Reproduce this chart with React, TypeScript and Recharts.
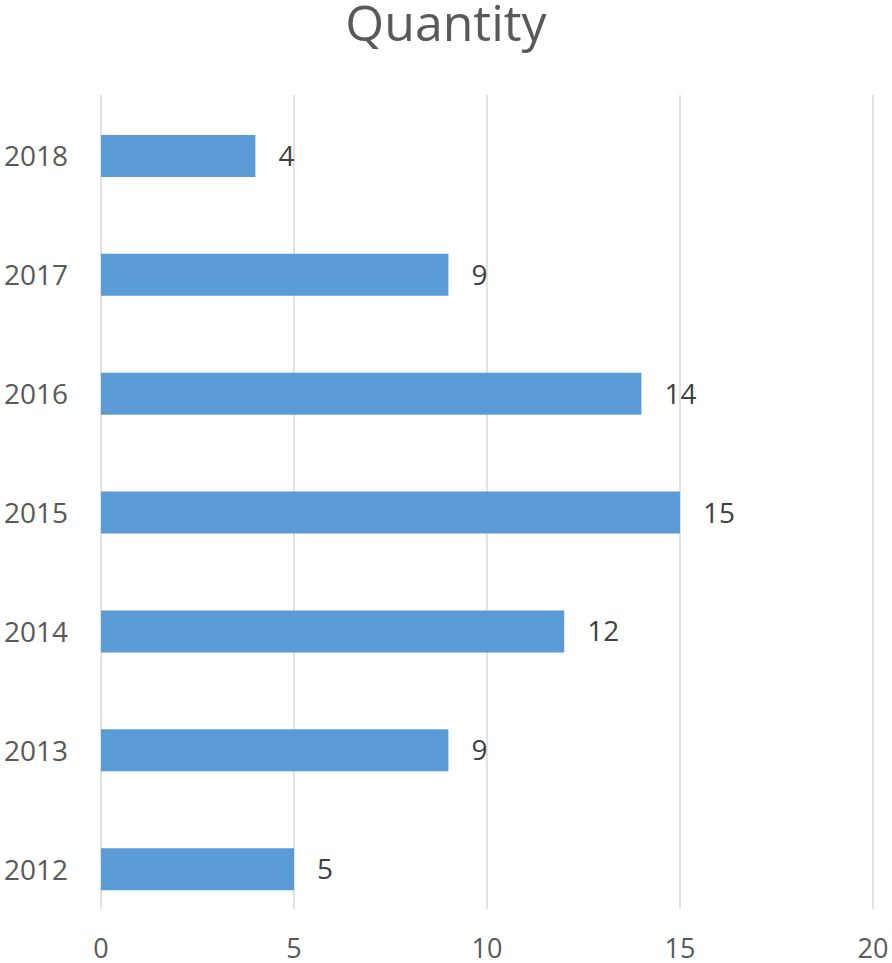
import React from 'react';
import { BarChart, Bar, XAxis, YAxis, CartesianGrid, LabelList } from 'recharts';

const years = ['2012', '2013', '2014', '2015', '2016', '2017', '2018'];
const quantity = [5, 9, 12, 15, 14, 9, 4];
const xTicks = [0, 5, 10, 15, 20];

const data = years.map((year, i) => ({ year, quantity: quantity[i] }));

const FONT = '"Open Sans", "Noto Sans", sans-serif';

const App: React.FC = () => {
  return (
    <div style={{ position: 'absolute', left: 0, top: 0, width: 892, height: 963, background: '#fff', fontFamily: FONT }}>
      <div
        style={{
          position: 'absolute',
          left: 0,
          top: 0,
          width: 892,
          textAlign: 'center',
          fontSize: 50,
          lineHeight: '44px',
          color: '#595959',
        }}
      >
        Quantity
      </div>
      <BarChart
        width={892}
        height={963}
        data={data}
        layout="vertical"
        margin={{ top: 95, right: 19, left: 0, bottom: 0 }}
      >
        <CartesianGrid horizontal={false} stroke="#d9d9d9" strokeWidth={1.5} />
        <XAxis
          type="number"
          domain={[0, 20]}
          ticks={xTicks}
          axisLine={false}
          tickLine={false}
          tickSize={0}
          tickMargin={30}
          height={54}
          tick={{ fill: '#595959', fontSize: 27, fontFamily: FONT }}
        />
        <YAxis
          type="category"
          dataKey="year"
          reversed
          width={101}
          axisLine={false}
          tickLine={false}
          tickSize={0}
          tickMargin={33}
          padding={{ top: 2, bottom: -20 }}
          tick={{ fill: '#595959', fontSize: 28, fontFamily: FONT }}
        />
        <Bar dataKey="quantity" fill="#5b9bd5" barSize={42} isAnimationActive={false}>
          <LabelList dataKey="quantity" position="right" offset={23} fill="#404040" fontSize={28} fontFamily={FONT} />
        </Bar>
      </BarChart>
    </div>
  );
};

export default App;
